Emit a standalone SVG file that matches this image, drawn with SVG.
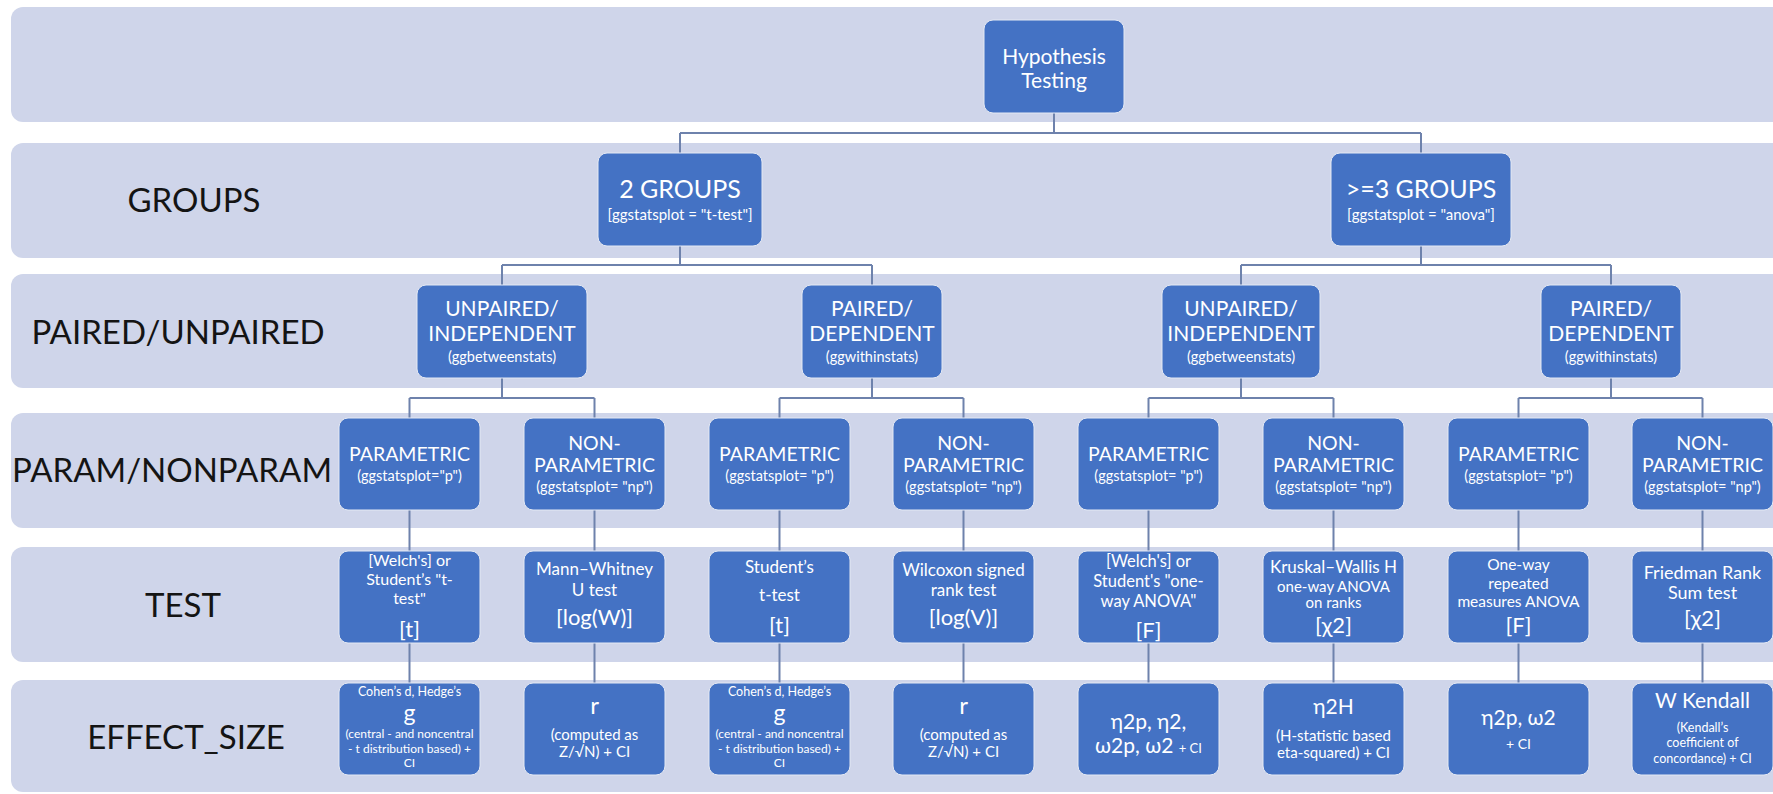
<svg xmlns="http://www.w3.org/2000/svg" width="1773" height="794" viewBox="0 0 1773 794">
<style>
.band{fill:#CFD5EA}
.box{fill:#4472C4;stroke:#E4E9F4;stroke-width:1}
.t{font-family:Lato,"Noto Sans","DejaVu Sans",sans-serif;fill:#fff;text-anchor:middle}
.lbl{font-family:Lato,"Noto Sans","DejaVu Sans",sans-serif;fill:#141414;text-anchor:middle;font-size:33px}
.con{fill:none;stroke:#6E82AC;stroke-width:2}
</style>
<rect width="1773" height="794" fill="#fff"/>
<g id="bands">
<rect class="band" x="11" y="7" width="1790" height="115" rx="12"/>
<rect class="band" x="11" y="143" width="1790" height="115" rx="12"/>
<rect class="band" x="11" y="274" width="1790" height="114" rx="12"/>
<rect class="band" x="11" y="413" width="1790" height="115" rx="12"/>
<rect class="band" x="11" y="547" width="1790" height="115" rx="12"/>
<rect class="band" x="11" y="680" width="1790" height="112" rx="12"/>
</g>
<g id="labels">
<text class="lbl" x="194" y="212">GROUPS</text>
<text class="lbl" x="178" y="344">PAIRED/UNPAIRED</text>
<text class="lbl" x="172" y="482">PARAM/NONPARAM</text>
<text class="lbl" x="183" y="617">TEST</text>
<text class="lbl" x="186" y="749">EFFECT_SIZE</text>
</g>
<g id="connectors">
<path class="con" d="M1054,113V133M680,133H1421M680,133V153M1421,133V153"/>
<path class="con" d="M680,246V265M502,265H872M502,265V285M872,265V285"/>
<path class="con" d="M1421,246V265M1241,265H1611M1241,265V285M1611,265V285"/>
<path class="con" d="M502,378V398M409.5,398H594.5M409.5,398V418M594.5,398V418"/>
<path class="con" d="M872,378V398M779.5,398H963.5M779.5,398V418M963.5,398V418"/>
<path class="con" d="M1241,378V398M1148.5,398H1333.5M1148.5,398V418M1333.5,398V418"/>
<path class="con" d="M1611,378V398M1518.5,398H1702.5M1518.5,398V418M1702.5,398V418"/>
<path class="con" d="M409.5,510V551M594.5,510V551M779.5,510V551M963.5,510V551M1148.5,510V551M1333.5,510V551M1518.5,510V551M1702.5,510V551"/>
<path class="con" d="M409.5,643V683M594.5,643V683M779.5,643V683M963.5,643V683M1148.5,643V683M1333.5,643V683M1518.5,643V683M1702.5,643V683"/>
</g>
<g id="root">
<rect class="box" x="984" y="20" width="140" height="93" rx="9"/>
<text class="t" x="1054" y="64" font-size="21">Hypothesis</text>
<text class="t" x="1054" y="88" font-size="21">Testing</text>
</g>
<g id="g2">
<rect class="box" x="598" y="153" width="164" height="93" rx="9"/>
<text class="t" x="680" y="198" font-size="25">2 GROUPS</text>
<text class="t" x="680" y="220" font-size="15">[ggstatsplot = "t-test"]</text>
</g>
<g id="g3">
<rect class="box" x="1331" y="153" width="180" height="93" rx="9"/>
<text class="t" x="1421" y="198" font-size="25">&gt;=3 GROUPS</text>
<text class="t" x="1421" y="220" font-size="15">[ggstatsplot = "anova"]</text>
</g>
<g id="unpaired2">
<rect class="box" x="417" y="285" width="170" height="93" rx="9"/>
<text class="t" x="502" y="316" font-size="21">UNPAIRED/</text>
<text class="t" x="502" y="341" font-size="21">INDEPENDENT</text>
<text class="t" x="502" y="362" font-size="14.5">(ggbetweenstats)</text>
</g>
<g id="paired2">
<rect class="box" x="802" y="285" width="140" height="93" rx="9"/>
<text class="t" x="872" y="316" font-size="21">PAIRED/</text>
<text class="t" x="872" y="341" font-size="21">DEPENDENT</text>
<text class="t" x="872" y="362" font-size="14.5">(ggwithinstats)</text>
</g>
<g id="unpaired3">
<rect class="box" x="1162" y="285" width="158" height="93" rx="9"/>
<text class="t" x="1241" y="316" font-size="21">UNPAIRED/</text>
<text class="t" x="1241" y="341" font-size="21">INDEPENDENT</text>
<text class="t" x="1241" y="362" font-size="14.5">(ggbetweenstats)</text>
</g>
<g id="paired3">
<rect class="box" x="1541" y="285" width="140" height="93" rx="9"/>
<text class="t" x="1611" y="316" font-size="21">PAIRED/</text>
<text class="t" x="1611" y="341" font-size="21">DEPENDENT</text>
<text class="t" x="1611" y="362" font-size="14.5">(ggwithinstats)</text>
</g>
<g id="param1">
<rect class="box" x="339" y="418" width="141" height="92" rx="9"/>
<text class="t" x="409.5" y="461" font-size="19.5">PARAMETRIC</text>
<text class="t" x="409.5" y="481" font-size="14.5">(ggstatsplot="p")</text>
</g>
<g id="nonparam1">
<rect class="box" x="524" y="418" width="141" height="92" rx="9"/>
<text class="t" x="594.5" y="450" font-size="19.5">NON-</text>
<text class="t" x="594.5" y="472" font-size="19.5">PARAMETRIC</text>
<text class="t" x="594.5" y="492" font-size="14.5">(ggstatsplot= "np")</text>
</g>
<g id="param2">
<rect class="box" x="709" y="418" width="141" height="92" rx="9"/>
<text class="t" x="779.5" y="461" font-size="19.5">PARAMETRIC</text>
<text class="t" x="779.5" y="481" font-size="14.5">(ggstatsplot= "p")</text>
</g>
<g id="nonparam2">
<rect class="box" x="893" y="418" width="141" height="92" rx="9"/>
<text class="t" x="963.5" y="450" font-size="19.5">NON-</text>
<text class="t" x="963.5" y="472" font-size="19.5">PARAMETRIC</text>
<text class="t" x="963.5" y="492" font-size="14.5">(ggstatsplot= "np")</text>
</g>
<g id="param3">
<rect class="box" x="1078" y="418" width="141" height="92" rx="9"/>
<text class="t" x="1148.5" y="461" font-size="19.5">PARAMETRIC</text>
<text class="t" x="1148.5" y="481" font-size="14.5">(ggstatsplot= "p")</text>
</g>
<g id="nonparam3">
<rect class="box" x="1263" y="418" width="141" height="92" rx="9"/>
<text class="t" x="1333.5" y="450" font-size="19.5">NON-</text>
<text class="t" x="1333.5" y="472" font-size="19.5">PARAMETRIC</text>
<text class="t" x="1333.5" y="492" font-size="14.5">(ggstatsplot= "np")</text>
</g>
<g id="param4">
<rect class="box" x="1448" y="418" width="141" height="92" rx="9"/>
<text class="t" x="1518.5" y="461" font-size="19.5">PARAMETRIC</text>
<text class="t" x="1518.5" y="481" font-size="14.5">(ggstatsplot= "p")</text>
</g>
<g id="nonparam4">
<rect class="box" x="1632" y="418" width="141" height="92" rx="9"/>
<text class="t" x="1702.5" y="450" font-size="19.5">NON-</text>
<text class="t" x="1702.5" y="472" font-size="19.5">PARAMETRIC</text>
<text class="t" x="1702.5" y="492" font-size="14.5">(ggstatsplot= "np")</text>
</g>
<g id="test1">
<rect class="box" x="339" y="551" width="141" height="92" rx="9"/>
<text class="t" x="409.5" y="566" font-size="16">[Welch's] or</text>
<text class="t" x="409.5" y="585" font-size="16">Student’s "t-</text>
<text class="t" x="409.5" y="604" font-size="16">test"</text>
<text class="t" x="409.5" y="637" font-size="22">[t]</text>
</g>
<g id="test2">
<rect class="box" x="524" y="551" width="141" height="92" rx="9"/>
<text class="t" x="594.5" y="575" font-size="17">Mann–Whitney</text>
<text class="t" x="594.5" y="596" font-size="17">U test</text>
<text class="t" x="594.5" y="625" font-size="22">[log(W)]</text>
</g>
<g id="test3">
<rect class="box" x="709" y="551" width="141" height="92" rx="9"/>
<text class="t" x="779.5" y="573" font-size="17">Student’s</text>
<text class="t" x="779.5" y="601" font-size="17">t-test</text>
<text class="t" x="779.5" y="633" font-size="22">[t]</text>
</g>
<g id="test4">
<rect class="box" x="893" y="551" width="141" height="92" rx="9"/>
<text class="t" x="963.5" y="576" font-size="17">Wilcoxon signed</text>
<text class="t" x="963.5" y="596" font-size="17">rank test</text>
<text class="t" x="963.5" y="625" font-size="22">[log(V)]</text>
</g>
<g id="test5">
<rect class="box" x="1078" y="551" width="141" height="92" rx="9"/>
<text class="t" x="1148.5" y="567" font-size="16.5">[Welch's] or</text>
<text class="t" x="1148.5" y="587" font-size="16.5">Student's "one-</text>
<text class="t" x="1148.5" y="607" font-size="16.5">way ANOVA"</text>
<text class="t" x="1148.5" y="638" font-size="22">[F]</text>
</g>
<g id="test6">
<rect class="box" x="1263" y="551" width="141" height="92" rx="9"/>
<text class="t" x="1333.5" y="573" font-size="17">Kruskal–Wallis H</text>
<text class="t" x="1333.5" y="592" font-size="15">one-way ANOVA</text>
<text class="t" x="1333.5" y="608" font-size="15">on ranks</text>
<text class="t" x="1333.5" y="633" font-size="22">[χ2]</text>
</g>
<g id="test7">
<rect class="box" x="1448" y="551" width="141" height="92" rx="9"/>
<text class="t" x="1518.5" y="570" font-size="15.5">One-way</text>
<text class="t" x="1518.5" y="589" font-size="15.5">repeated</text>
<text class="t" x="1518.5" y="607" font-size="15.5">measures ANOVA</text>
<text class="t" x="1518.5" y="633" font-size="22">[F]</text>
</g>
<g id="test8">
<rect class="box" x="1632" y="551" width="141" height="92" rx="9"/>
<text class="t" x="1702.5" y="579" font-size="18">Friedman Rank</text>
<text class="t" x="1702.5" y="599" font-size="18">Sum test</text>
<text class="t" x="1702.5" y="626" font-size="22">[χ2]</text>
</g>
<g id="es1">
<rect class="box" x="339" y="683" width="141" height="92" rx="9"/>
<text class="t" x="409.5" y="696" font-size="12.5">Cohen’s d, Hedge’s</text>
<text class="t" x="409.5" y="721" font-size="23">g</text>
<text class="t" x="409.5" y="738" font-size="12">(central - and noncentral</text>
<text class="t" x="409.5" y="753" font-size="12">- t distribution based) +</text>
<text class="t" x="409.5" y="767" font-size="12">CI</text>
</g>
<g id="es2">
<rect class="box" x="524" y="683" width="141" height="92" rx="9"/>
<text class="t" x="594.5" y="714" font-size="24">r</text>
<text class="t" x="594.5" y="740" font-size="15">(computed as</text>
<text class="t" x="594.5" y="757" font-size="15">Z/√N) + CI</text>
</g>
<g id="es3">
<rect class="box" x="709" y="683" width="141" height="92" rx="9"/>
<text class="t" x="779.5" y="696" font-size="12.5">Cohen’s d, Hedge’s</text>
<text class="t" x="779.5" y="721" font-size="23">g</text>
<text class="t" x="779.5" y="738" font-size="12">(central - and noncentral</text>
<text class="t" x="779.5" y="753" font-size="12">- t distribution based) +</text>
<text class="t" x="779.5" y="767" font-size="12">CI</text>
</g>
<g id="es4">
<rect class="box" x="893" y="683" width="141" height="92" rx="9"/>
<text class="t" x="963.5" y="714" font-size="24">r</text>
<text class="t" x="963.5" y="740" font-size="15">(computed as</text>
<text class="t" x="963.5" y="757" font-size="15">Z/√N) + CI</text>
</g>
<g id="es5">
<rect class="box" x="1078" y="683" width="141" height="92" rx="9"/>
<text class="t" x="1148.5" y="729" font-size="21">η2p, η2,</text>
<text class="t" x="1148.5" y="753" font-size="21">ω2p, ω2 <tspan font-size="13">+ CI</tspan></text>
</g>
<g id="es6">
<rect class="box" x="1263" y="683" width="141" height="92" rx="9"/>
<text class="t" x="1333.5" y="714" font-size="21">η2H</text>
<text class="t" x="1333.5" y="741" font-size="15">(H-statistic based</text>
<text class="t" x="1333.5" y="758" font-size="15">eta-squared) + CI</text>
</g>
<g id="es7">
<rect class="box" x="1448" y="683" width="141" height="92" rx="9"/>
<text class="t" x="1518.5" y="725" font-size="21">η2p, ω2</text>
<text class="t" x="1518.5" y="749" font-size="14">+ CI</text>
</g>
<g id="es8">
<rect class="box" x="1632" y="683" width="141" height="92" rx="9"/>
<text class="t" x="1702.5" y="708" font-size="21">W Kendall</text>
<text class="t" x="1702.5" y="732" font-size="12.5">(Kendall’s</text>
<text class="t" x="1702.5" y="747" font-size="12.5">coefficient of</text>
<text class="t" x="1702.5" y="763" font-size="12.5">concordance) + CI</text>
</g>
</svg>
